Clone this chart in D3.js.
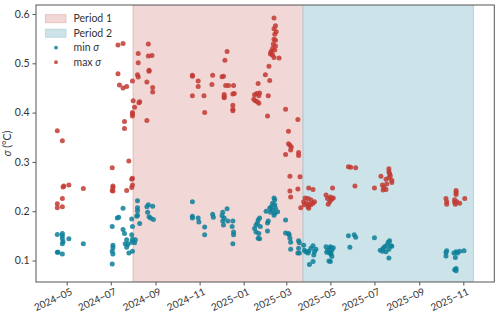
<!DOCTYPE html>
<html><head><meta charset="utf-8">
<script src="https://cdn.jsdelivr.net/npm/d3@7"></script>
<style>body{margin:0;background:#fff}svg{display:block}text{font-family:Lato,"DejaVu Sans",sans-serif}</style>
</head><body><svg id="c" width="500" height="314"></svg>
<script>
const periods = [
  {name: "Period 1", start: "2024-08-01", end: "2025-03-24"},
  {name: "Period 2", start: "2025-03-24", end: "2025-11-15"}
];
const xTicks = ["2024-05-01","2024-07-01","2024-09-01","2024-11-01","2025-01-01","2025-03-01","2025-05-01","2025-07-01","2025-09-01","2025-11-01"];
const yTicks = [0.1,0.2,0.3,0.4,0.5,0.6];
const maxSigma = [
["2024-04-18",0.363],["2024-04-25",0.343],["2024-04-26",0.249],["2024-04-27",0.251],["2024-05-04",0.253],["2024-05-24",0.246],
["2024-04-25",0.226],["2024-04-18",0.215],["2024-04-18",0.207],["2024-04-25",0.209],
["2024-07-03",0.288],["2024-07-04",0.251],["2024-07-04",0.248],["2024-07-04",0.241],["2024-07-03",0.242],
["2024-07-26",0.302],["2024-07-23",0.242],["2024-07-30",0.265],["2024-07-31",0.267],["2024-07-30",0.248],["2024-07-31",0.253],
["2024-07-20",0.382],["2024-07-20",0.368],["2024-07-31",0.400],["2024-07-31",0.393],["2024-07-31",0.397],
["2024-08-01",0.424],["2024-08-03",0.411],["2024-08-10",0.422],["2024-08-09",0.420],["2024-08-20",0.384],
["2024-07-11",0.537],["2024-07-18",0.540],["2024-07-11",0.479],["2024-07-13",0.456],["2024-07-18",0.450],["2024-07-23",0.453],
["2024-07-31",0.464],["2024-08-07",0.477],["2024-08-08",0.472],["2024-08-08",0.520],["2024-08-08",0.501],
["2024-08-22",0.539],["2024-08-22",0.515],["2024-08-27",0.516],["2024-08-23",0.486],["2024-08-23",0.484],["2024-08-20",0.462],
["2024-08-28",0.451],["2024-08-28",0.442],
["2024-10-22",0.476],["2024-10-22",0.474],["2024-10-22",0.434],["2024-10-30",0.464],["2024-10-30",0.453],
["2024-11-07",0.434],["2024-11-08",0.400],["2024-11-19",0.476],["2024-11-18",0.457],
["2024-12-02",0.473],["2024-12-04",0.474],["2024-12-09",0.524],["2024-12-06",0.506],["2024-12-07",0.455],["2024-12-11",0.455],
["2024-12-18",0.455],["2024-12-05",0.437],["2024-12-05",0.430],["2024-12-05",0.432],["2024-12-17",0.438],["2024-12-19",0.439],
["2024-12-17",0.415],["2024-12-17",0.407],["2024-12-17",0.404],
["2025-01-21",0.459],["2025-01-16",0.436],["2025-01-19",0.439],["2025-01-23",0.440],["2025-01-22",0.434],["2025-01-17",0.424],
["2025-01-20",0.422],["2025-01-22",0.419],["2025-01-15",0.427],
["2025-01-31",0.477],["2025-02-04",0.434],["2025-02-03",0.393],["2025-02-06",0.465],["2025-02-05",0.494],
["2025-02-12",0.592],["2025-02-14",0.576],["2025-02-12",0.570],["2025-02-15",0.564],["2025-02-13",0.559],["2025-02-12",0.549],
["2025-02-14",0.547],["2025-02-11",0.539],["2025-02-14",0.535],["2025-02-08",0.524],["2025-02-07",0.519],["2025-02-10",0.517],
["2025-02-08",0.522],["2025-02-12",0.512],["2025-02-19",0.511],["2025-02-10",0.530],["2025-02-13",0.527],
["2025-02-28",0.407],["2025-03-17",0.386],["2025-03-04",0.362],["2025-03-04",0.337],["2025-03-06",0.334],["2025-03-08",0.330],
["2025-03-07",0.324],["2025-02-28",0.315],["2025-03-18",0.319],["2025-03-18",0.313],["2025-03-06",0.271],["2025-03-20",0.270],
["2025-03-17",0.245],["2025-03-06",0.241],["2025-03-07",0.229],
["2025-04-01",0.247],["2025-04-07",0.244],["2025-03-27",0.227],["2025-03-31",0.226],["2025-04-04",0.223],["2025-03-25",0.219],
["2025-03-29",0.216],["2025-04-02",0.214],["2025-04-07",0.216],["2025-04-09",0.219],["2025-03-26",0.213],["2025-03-31",0.209],
["2025-04-04",0.213],["2025-04-01",0.206],["2025-03-21",0.207],
["2025-04-25",0.233],["2025-04-27",0.226],["2025-04-30",0.219],["2025-04-28",0.214],["2025-05-02",0.223],["2025-05-04",0.247],
["2025-05-01",0.229],["2025-05-03",0.226],["2025-05-05",0.227],
["2025-05-26",0.290],["2025-05-29",0.289],["2025-06-05",0.288],["2025-06-04",0.251],
["2025-07-01",0.247],["2025-07-10",0.271],["2025-07-21",0.286],["2025-07-21",0.280],["2025-07-22",0.276],["2025-07-23",0.272],
["2025-07-21",0.268],["2025-07-17",0.265],["2025-07-18",0.255],["2025-07-12",0.253],["2025-07-14",0.248],["2025-07-13",0.243],
["2025-07-17",0.244],["2025-07-25",0.258],["2025-07-25",0.263],
["2025-10-08",0.226],["2025-10-09",0.219],["2025-10-09",0.214],["2025-10-22",0.242],["2025-10-22",0.238],["2025-10-22",0.234],
["2025-10-20",0.223],["2025-10-23",0.219],["2025-10-21",0.214],["2025-10-27",0.216],["2025-10-20",0.218],["2025-11-03",0.226]
];
const minSigma = [
["2024-04-18",0.153],["2024-04-25",0.155],["2024-04-25",0.150],["2024-04-25",0.144],["2024-04-26",0.138],["2024-04-25",0.134],
["2024-05-04",0.144],["2024-04-18",0.117],["2024-04-19",0.117],["2024-04-25",0.113],["2024-05-24",0.134],
["2024-07-03",0.169],["2024-07-04",0.131],["2024-07-04",0.126],["2024-07-03",0.119],["2024-07-04",0.113],["2024-07-03",0.093],
["2024-07-10",0.186],["2024-07-12",0.188],["2024-07-18",0.206],["2024-07-18",0.163],["2024-07-20",0.155],["2024-07-23",0.142],
["2024-07-21",0.134],["2024-07-25",0.133],["2024-07-23",0.127],["2024-07-26",0.115],
["2024-07-30",0.184],["2024-07-31",0.169],["2024-07-30",0.152],["2024-07-31",0.143],["2024-07-30",0.137],["2024-07-31",0.119],
["2024-08-04",0.142],["2024-08-03",0.136],["2024-08-07",0.221],["2024-08-07",0.207],["2024-08-07",0.201],["2024-08-07",0.192],
["2024-08-06",0.190],["2024-08-10",0.175],["2024-08-20",0.209],["2024-08-22",0.213],["2024-08-21",0.198],["2024-08-23",0.189],
["2024-08-28",0.210],["2024-08-29",0.183],["2024-08-25",0.186],
["2024-10-22",0.219],["2024-10-22",0.190],["2024-10-22",0.186],["2024-10-30",0.186],["2024-10-31",0.178],
["2024-11-08",0.168],["2024-11-08",0.152],["2024-11-19",0.194],["2024-11-20",0.188],
["2024-12-03",0.198],["2024-12-02",0.191],["2024-12-05",0.186],["2024-12-03",0.180],["2024-12-04",0.172],["2024-12-09",0.205],
["2024-12-10",0.180],["2024-12-16",0.169],["2024-12-17",0.180],["2024-12-18",0.158],["2024-12-18",0.152],["2024-12-17",0.134],
["2025-01-16",0.165],["2025-01-18",0.172],["2025-01-21",0.182],["2025-01-23",0.186],["2025-01-20",0.176],["2025-01-18",0.158],
["2025-01-22",0.155],["2025-01-24",0.169],["2025-01-21",0.145],["2025-01-23",0.144],
["2025-02-03",0.176],["2025-02-04",0.180],["2025-02-03",0.160],
["2025-02-12",0.227],["2025-02-13",0.223],["2025-02-10",0.216],["2025-02-13",0.213],["2025-02-08",0.209],["2025-02-14",0.206],
["2025-02-06",0.206],["2025-02-10",0.202],["2025-02-17",0.199],["2025-02-13",0.196],["2025-02-07",0.198],["2025-02-01",0.200],
["2025-02-12",0.192],
["2025-02-28",0.182],["2025-02-28",0.156],["2025-03-04",0.155],["2025-03-05",0.152],["2025-03-06",0.145],["2025-03-07",0.137],
["2025-03-07",0.123],["2025-03-18",0.140],["2025-03-19",0.136],["2025-03-18",0.125],["2025-03-17",0.115],["2025-03-19",0.115],
["2025-03-25",0.131],["2025-03-28",0.118],["2025-04-01",0.119],["2025-04-04",0.125],["2025-04-07",0.130],["2025-04-09",0.118],
["2025-04-11",0.123],["2025-04-08",0.111],["2025-04-02",0.092],["2025-04-07",0.098],["2025-03-26",0.121],["2025-03-31",0.115],
["2025-04-25",0.128],["2025-04-27",0.121],["2025-04-30",0.115],["2025-04-26",0.117],["2025-04-29",0.099],["2025-05-01",0.125],
["2025-05-02",0.113],["2025-05-01",0.128],["2025-05-03",0.121],["2025-05-05",0.126],["2025-05-01",0.115],["2025-05-03",0.108],
["2025-05-01",0.098],
["2025-05-26",0.150],["2025-06-03",0.152],["2025-06-05",0.147],["2025-05-28",0.127],
["2025-07-01",0.146],["2025-07-09",0.121],["2025-07-13",0.125],["2025-07-15",0.128],["2025-07-18",0.131],["2025-07-20",0.137],
["2025-07-22",0.140],["2025-07-24",0.130],["2025-07-21",0.123],["2025-07-25",0.129],["2025-07-21",0.105],["2025-07-12",0.119],
["2025-07-17",0.118],
["2025-10-09",0.120],["2025-10-08",0.109],["2025-10-08",0.116],["2025-10-19",0.115],["2025-10-22",0.118],["2025-10-24",0.115],
["2025-10-27",0.119],["2025-11-02",0.120],["2025-10-21",0.106],["2025-10-22",0.084],["2025-10-20",0.081],["2025-10-22",0.079]
];
const legendItems = [
  {label:"Period 1", type:"patch"},
  {label:"Period 2", type:"patch"},
  {label:"min σ", type:"dot"},
  {label:"max σ", type:"dot"}
];

const W=500,H=314, m={l:36,r:5.7,t:5,b:32};
const parse = d3.utcParse("%Y-%m-%d");
const RED="#c23a33", TEAL="#0d7f99";
const spanFill=["#f2d7d7","#cce3e9"], spanEdge=["#e4b9b9","#b3d3db"];
const svg=d3.select("#c");
const x=d3.scaleUtc().domain([new Date(Date.UTC(2024,2,19,12)),new Date(Date.UTC(2025,11,13,22))]).range([m.l,W-m.r]);
const y=d3.scaleLinear().domain([0.0564,0.6183]).range([H-m.b,m.t]);

// periods
periods.forEach((p,i)=>{
  const x0=x(parse(p.start)), x1=x(parse(p.end));
  svg.append("rect").attr("x",x0).attr("y",m.t).attr("width",x1-x0).attr("height",H-m.b-m.t)
    .attr("fill",spanFill[i]);
});
periods.forEach((p,i)=>{
  [p.start,p.end].forEach(d=>{
    svg.append("line").attr("x1",x(parse(d))).attr("x2",x(parse(d))).attr("y1",m.t).attr("y2",H-m.b)
      .attr("stroke",spanEdge[i]).attr("stroke-width",1);
  });
});

// points
const g=svg.append("g");
g.selectAll("circle.mn").data(minSigma).join("circle").attr("class","mn")
  .attr("cx",d=>x(parse(d[0]))).attr("cy",d=>y(d[1])).attr("r",2.5).attr("fill",TEAL).attr("fill-opacity",0.85);
g.selectAll("circle.mx").data(maxSigma).join("circle").attr("class","mx")
  .attr("cx",d=>x(parse(d[0]))).attr("cy",d=>y(d[1])).attr("r",2.5).attr("fill",RED).attr("fill-opacity",0.85);

// frame
svg.append("rect").attr("x",m.l).attr("y",m.t).attr("width",W-m.r-m.l).attr("height",H-m.b-m.t)
  .attr("fill","none").attr("stroke","#555").attr("stroke-width",1);

// axes
const fmt=d3.utcFormat("%Y−%m");
const xa=svg.append("g").attr("transform",`translate(0,${H-m.b})`)
  .call(d3.axisBottom(x).tickValues(xTicks.map(parse)).tickFormat(fmt).tickSize(3.5).tickPadding(2));
xa.select(".domain").remove();
xa.selectAll(".tick line").attr("stroke","#555");
xa.selectAll(".tick text").attr("fill","#333").attr("font-size",10)
  .attr("text-anchor","end").attr("dy","0.35em")
  .attr("transform","translate(2,4) rotate(-25)");
const ya=svg.append("g").attr("transform",`translate(${m.l},0)`)
  .call(d3.axisLeft(y).tickValues(yTicks).tickFormat(d3.format(".1f")).tickSize(3.5).tickPadding(3));
ya.select(".domain").remove();
ya.selectAll(".tick line").attr("stroke","#555");
ya.selectAll(".tick text").attr("fill","#333").attr("font-size",10.5);

// y label
const yl=svg.append("text").attr("transform",`translate(11,${(m.t+H-m.b)/2}) rotate(-90)`)
  .attr("text-anchor","middle").attr("font-size",10.5).attr("fill","#333");
yl.append("tspan").attr("font-style","italic").text("σ");
yl.append("tspan").text(" (°C)");

// legend
const lg=svg.append("g");
legendItems.forEach((it,i)=>{
  const cy=18.7+i*14.5;
  if(it.type==="patch"){
    lg.append("rect").attr("x",45.5).attr("y",cy-4).attr("width",20.5).attr("height",8)
      .attr("fill",spanFill[i]).attr("stroke",spanEdge[i]).attr("stroke-width",0.8);
  } else {
    lg.append("circle").attr("cx",56).attr("cy",cy).attr("r",1.9).attr("fill",i===2?TEAL:RED).attr("fill-opacity",0.85);
  }
  const t=lg.append("text").attr("x",73.5).attr("y",cy).attr("dy","0.35em").attr("font-size",10.5).attr("fill","#333");
  if(it.type==="dot"){
    t.append("tspan").text(it.label.split(" ")[0]+" ");
    t.append("tspan").attr("font-style","italic").text("σ");
  } else t.text(it.label);
});
</script></body></html>
